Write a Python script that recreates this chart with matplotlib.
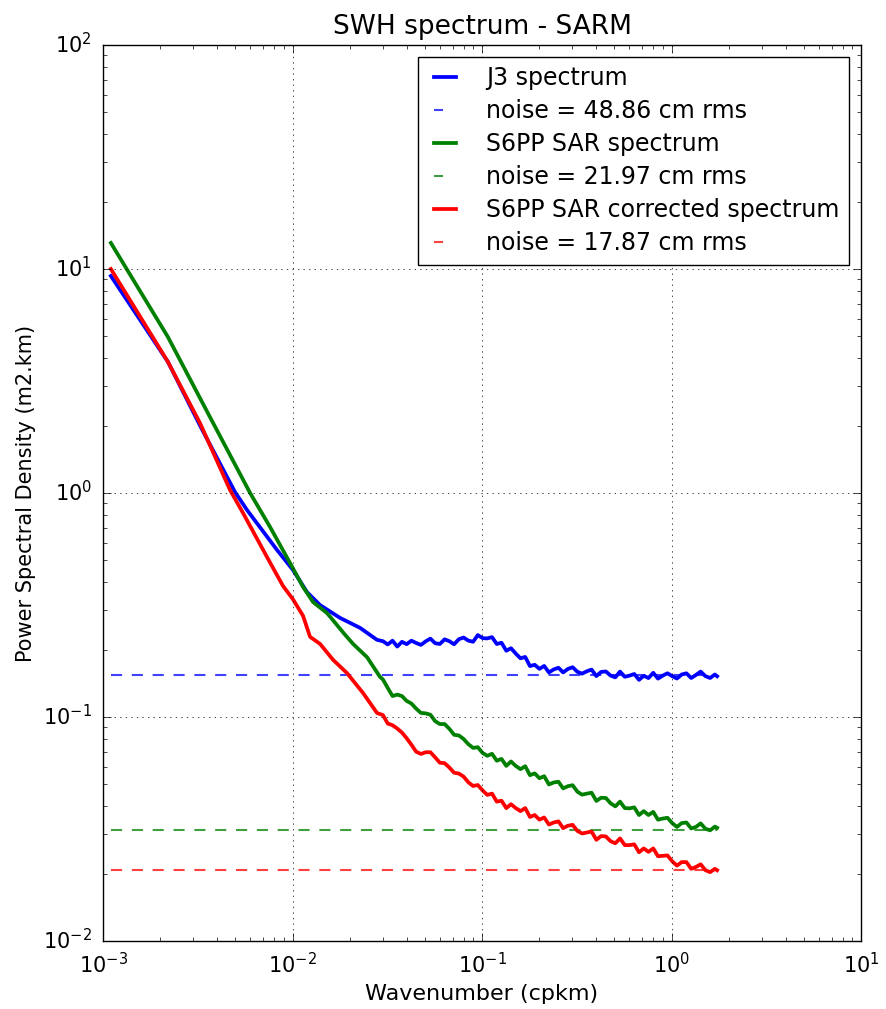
#! /usr/bin/env python

import matplotlib
matplotlib.use("Agg")
import matplotlib.pyplot as plt

# low wavenumber part, read separately for each curve
k_j3_lf = [1.1e-3, 2.2e-3, 3.3e-3, 4.97e-3, 5.75e-3, 8.28e-3, 1.006e-2, 1.192e-2,
           1.397e-2, 1.781e-2, 2.271e-2, 2.792e-2]
psd_j3_lf = [9.31, 3.85, 1.95, 1.01, 0.840, 0.557, 0.453, 0.361,
             0.316, 0.277, 0.250, 0.221]

k_sar_lf = [1.1e-3, 2.2e-3, 3.67e-3, 5.97e-3, 7.61e-3, 9.7e-3, 1.136e-2, 1.283e-2,
            1.521e-2, 1.86e-2, 2.086e-2, 2.472e-2, 2.895e-2]
psd_sar_lf = [13.07, 4.97, 2.18, 1.0, 0.705, 0.487, 0.381, 0.326,
              0.291, 0.237, 0.212, 0.185, 0.151]

k_cor_lf = [1.1e-3, 2.2e-3, 3.25e-3, 4.68e-3, 5.48e-3, 7.33e-3, 8.9e-3, 1.006e-2,
            1.136e-2, 1.237e-2, 1.397e-2, 1.636e-2, 1.939e-2, 2.355e-2, 2.792e-2]
psd_cor_lf = [10.0, 3.85, 2.05, 1.031, 0.814, 0.518, 0.385, 0.335,
              0.283, 0.228, 0.212, 0.180, 0.157, 0.128, 0.1042]

# high wavenumber part (noisy), same wavenumbers for the three spectra
k_hf = [0.0300, 0.0318, 0.0337, 0.0357, 0.0378, 0.0400, 0.0424, 0.0449, 0.0476, 0.0504,
        0.0534, 0.0566, 0.0599, 0.0635, 0.0672, 0.0712, 0.0755, 0.0799, 0.0847, 0.0897,
        0.0950, 0.1007, 0.1066, 0.1129, 0.1196, 0.1267, 0.1343, 0.1422, 0.1506, 0.1596,
        0.1690, 0.1790, 0.1897, 0.2009, 0.2128, 0.2254, 0.2388, 0.2530, 0.2680, 0.2839,
        0.3007, 0.3185, 0.3374, 0.3574, 0.3786, 0.4011, 0.4249, 0.4501, 0.4768, 0.5050,
        0.5350, 0.5667, 0.6003, 0.6359, 0.6737, 0.7136, 0.7559, 0.8008, 0.8483, 0.8986,
        0.9519, 1.0083, 1.0681, 1.1315, 1.1986, 1.2697, 1.3450, 1.4248, 1.5093, 1.5988,
        1.6937, 1.74]
psd_j3_hf = [0.218, 0.2108, 0.2191, 0.2063, 0.2166, 0.2114, 0.2191, 0.214, 0.2098, 0.2176,
             0.2238, 0.2134, 0.2118, 0.2222, 0.218, 0.2111, 0.2226, 0.2263, 0.2193, 0.2167,
             0.2321, 0.225, 0.2243, 0.2273, 0.2118, 0.2145, 0.1976, 0.2028, 0.192, 0.1828,
             0.1854, 0.1688, 0.1710, 0.1640, 0.1690, 0.1581, 0.163, 0.1659, 0.1581, 0.1639,
             0.1668, 0.1591, 0.1562, 0.160, 0.1628, 0.1523, 0.1589, 0.1597, 0.1531, 0.1503,
             0.1595, 0.1512, 0.153, 0.1556, 0.1465, 0.1528, 0.1492, 0.1575, 0.1484, 0.153,
             0.1567, 0.1522, 0.1485, 0.1548, 0.1567, 0.1493, 0.154, 0.1595, 0.1522, 0.1493,
             0.1548, 0.152]
psd_sar_hf = [0.147, 0.1348, 0.1240, 0.1259, 0.1240, 0.1180, 0.1148, 0.109, 0.1043, 0.1038,
              0.1024, 0.0958, 0.0930, 0.0930, 0.0886, 0.0833, 0.0827, 0.0798, 0.0756, 0.0728,
              0.0733, 0.0691, 0.0671, 0.0685, 0.0638, 0.0650, 0.0605, 0.0633, 0.0605, 0.0585,
              0.0603, 0.0550, 0.0560, 0.0533, 0.0544, 0.0500, 0.0510, 0.0514, 0.0480, 0.0491,
              0.0496, 0.0464, 0.0450, 0.0455, 0.0459, 0.0422, 0.0436, 0.0435, 0.0412, 0.0399,
              0.0419, 0.0392, 0.0391, 0.0395, 0.0365, 0.0380, 0.0365, 0.0377, 0.0348, 0.0352,
              0.0355, 0.0336, 0.0323, 0.0336, 0.0338, 0.0318, 0.0323, 0.0335, 0.0317, 0.0312,
              0.0324, 0.0320]
psd_cor_hf = [0.102, 0.0935, 0.0919, 0.0888, 0.0852, 0.0804, 0.0752, 0.070, 0.0684, 0.0696,
              0.0696, 0.0660, 0.0625, 0.0622, 0.0595, 0.0564, 0.0559, 0.0542, 0.0511, 0.0492,
              0.0497, 0.0470, 0.0449, 0.0455, 0.0419, 0.0423, 0.0392, 0.0408, 0.0392, 0.0380,
              0.0392, 0.0358, 0.0365, 0.0348, 0.0356, 0.0331, 0.0338, 0.0342, 0.0319, 0.0327,
              0.0330, 0.0310, 0.0302, 0.0305, 0.0308, 0.0283, 0.0294, 0.0293, 0.0279, 0.0273,
              0.0287, 0.0268, 0.0268, 0.0270, 0.0249, 0.0259, 0.0250, 0.0259, 0.0239, 0.0240,
              0.0241, 0.0227, 0.0217, 0.0225, 0.0225, 0.0210, 0.0214, 0.0220, 0.0207, 0.0203,
              0.0210, 0.0207]

# noise levels (flat)
k_noise = [1.1e-3, 1.739]
noise_j3 = 0.154
noise_sar = 0.0313
noise_cor = 0.0207

labels = ['J3 spectrum', 'noise = 48.86 cm rms',
          'S6PP SAR spectrum', 'noise = 21.97 cm rms',
          'S6PP SAR corrected spectrum', 'noise = 17.87 cm rms']

plt.style.use('classic')
plt.rcParams['figure.facecolor'] = 'white'
plt.rcParams['savefig.facecolor'] = 'white'
plt.rcParams['lines.scale_dashes'] = False

fig = plt.figure(figsize=(8.86, 10.09), dpi=100)
ax = fig.add_axes([0.1163, 0.0674, 0.8555, 0.888])

ax.loglog(k_j3_lf + k_hf, psd_j3_lf + psd_j3_hf, color='b', lw=2.7, label=labels[0])
ax.loglog(k_noise, [noise_j3, noise_j3], color='b', lw=1.5, alpha=0.75,
          dashes=(8, 7), label=labels[1])
ax.loglog(k_sar_lf + k_hf, psd_sar_lf + psd_sar_hf, color='g', lw=2.7, label=labels[2])
ax.loglog(k_noise, [noise_sar, noise_sar], color='g', lw=1.5, alpha=0.75,
          dashes=(8, 7), label=labels[3])
ax.loglog(k_cor_lf + k_hf, psd_cor_lf + psd_cor_hf, color='r', lw=2.7, label=labels[4])
ax.loglog(k_noise, [noise_cor, noise_cor], color='r', lw=1.5, alpha=0.75,
          dashes=(8, 7), label=labels[5])

ax.set_xlim(1e-3, 1e1)
ax.set_ylim(1e-2, 1e2)
ax.grid(True, which='major', color='k', linestyle=':')
ax.tick_params(which='major', labelsize=15, length=6, pad=8)
ax.tick_params(which='minor', length=3)
ax.set_xlabel('Wavenumber (cpkm)', fontsize=16)
ax.set_ylabel('Power Spectral Density (m2.km)', fontsize=15)
ax.set_title('SWH spectrum - SARM', fontsize=19, y=1.005)
leg = ax.legend(loc='upper right', fontsize=17, handlelength=1.5,
                handletextpad=1.0, borderpad=0.4, labelspacing=0.38)
# shorter dashes in the legend so two of them show
for i, line in enumerate(leg.get_lines()):
    if i % 2 == 1:
        line.set_dashes((6.5, 11))

plt.savefig('out.png', dpi=100)
